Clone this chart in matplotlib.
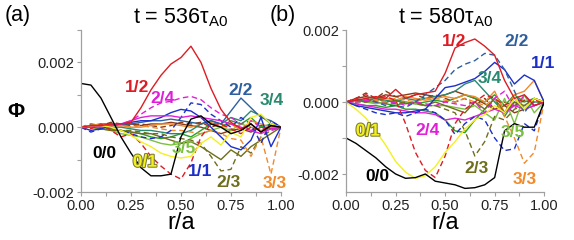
import numpy as np
import matplotlib.pyplot as plt
import matplotlib.patheffects as pe
from matplotlib.ticker import MultipleLocator, FuncFormatter

plt.rcParams.update({
    'font.family': ['Liberation Sans', 'DejaVu Sans'],
    'mathtext.fontset': 'custom',
    'mathtext.rm': 'Liberation Sans',
})

r = np.linspace(0, 1, 21)

# panel (a), t = 536 tau_A0  (values in units of 1e-3)
a_00 = [1.35, 1.3, 0.9, 0.3, -0.3, -0.8, -1.25, -1.5, -1.5, -1.45, -0.3, 0.25, 0.35, 0.1, 0.0, -0.2, -0.1, 0.1, -0.15, 0.05, 0]
a_01 = [0, 0.05, 0.05, 0, -0.1, -0.25, -0.45, -0.6, -0.8, -0.9, -0.95, -0.9, -0.5, -0.3, -0.55, -0.15, -0.3, 0.3, 0.4, 0.1, 0]
a_12 = [0, 0.05, 0.05, 0.1, 0.1, 0.15, 0.6, 1.15, 1.6, 1.95, 2.15, 2.5, 2.0, 1.2, 0.55, 0.15, -0.05, 0.1, -0.15, 0.05, 0]
a_12d = [0, -0.05, 0.1, -0.1, -0.3, -0.2, -0.5, -0.9, -1.2, -1.45, -1.6, -1.1, -0.3, 0.1, 0.1, -0.05, -0.2, 0.0, -0.1, 0.05, 0]
a_24 = [0, 0, 0.05, 0.05, 0.1, 0.2, 0.3, 0.35, 0.35, 0.35, 0.3, 0.35, 0.3, 0.25, 0.2, 0.1, 0, -0.1, -0.2, -0.05, 0]
a_24d = [0, 0, 0, 0.05, 0.1, 0.2, 0.4, 0.6, 0.75, 0.8, 0.9, 0.95, 0.85, 0.6, 0.4, 0.3, 0.1, 0.2, 0, -0.1, 0]
a_11 = [0, -0.1, -0.05, 0.05, 0.1, 0.15, 0.2, 0.2, 0.3, 0.45, 0.55, 0.5, 0.3, 0.0, -0.3, -0.6, -0.7, -0.4, 0.3, -0.6, 0]
a_11d = [0, -0.15, -0.05, 0, -0.1, -0.2, -0.3, -0.35, -0.3, -0.1, 0.3, 0.75, 0.7, 0.4, 0.2, 0.0, 0.3, 0.1, -0.5, 0.2, 0]
a_22 = [0, 0, 0.05, 0.05, 0.1, 0.1, 0.15, 0.2, 0.2, 0.25, 0.2, 0.15, 0.1, 0.2, 0.1, 0.5, 0.9, 0.6, 0.3, 0.2, 0]
a_23 = [0, 0, -0.05, -0.1, -0.1, -0.15, -0.2, -0.2, -0.3, -0.4, -0.5, -0.45, -0.6, -0.8, -1.0, -0.7, -0.9, -0.6, -0.4, -0.2, 0]
a_23d = [0, 0, 0, -0.05, -0.1, -0.1, -0.15, -0.2, -0.2, -0.3, -0.35, -0.4, -0.5, -0.9, -1.35, -1.3, -0.6, -0.8, -0.3, -0.1, 0]
a_33d = [0, 0.05, 0.05, 0, 0.05, 0, 0.05, 0, -0.05, -0.1, -0.1, -0.15, -0.2, -0.1, -0.2, -0.35, -0.4, -0.9, -0.3, -1.45, 0]
a_33 = [0, 0.05, 0.1, 0.05, 0.05, 0, 0, 0.05, 0.1, 0.1, 0.05, 0, 0.1, 0.15, 0.0, 0.1, -0.1, 0.2, 0.1, 0.0, 0]
a_34 = [0, 0.05, 0.05, 0, 0, -0.05, -0.1, -0.1, -0.15, -0.2, -0.2, -0.1, 0.1, 0.2, 0.1, 0.3, 0.2, 0.5, 0.35, 0.1, 0]
a_35 = [0, 0, -0.05, -0.1, -0.2, -0.25, -0.3, -0.4, -0.5, -0.55, -0.5, -0.35, -0.2, -0.1, 0, -0.1, 0.1, 0, -0.1, 0, 0]
a_gr = [0, 0, 0, -0.05, -0.1, -0.15, -0.2, -0.3, -0.35, -0.3, -0.2, -0.3, -0.1, 0.1, 0, 0.2, 0.1, 0.3, 0, 0.1, 0]
a_br = [0, 0.05, 0.1, 0.1, 0.05, 0.1, 0.05, 0.1, 0.1, 0.15, 0.1, 0.05, 0, -0.1, -0.2, -0.1, -0.05, -0.15, 0, -0.05, 0]
a_brd = [0, 0.1, 0.05, 0.15, 0.1, 0.05, 0.1, 0.05, 0, 0.05, 0.15, 0.1, 0.15, 0, 0.1, -0.1, 0.1, -0.1, 0.05, 0, 0]

# panel (b), t = 580 tau_A0
b_00 = [-1.0, -1.15, -1.35, -1.55, -1.8, -2.0, -2.12, -2.1, -2.0, -2.2, -2.25, -2.3, -2.4, -2.38, -2.3, -2.1, -0.8, -0.6, -0.7, -0.7, 0]
b_01 = [0, -0.2, -0.45, -0.8, -1.2, -1.65, -1.95, -2.12, -2.05, -1.8, -1.4, -1.1, -0.75, -0.5, -0.35, -0.1, -0.3, 0.1, -0.2, 0.1, 0]
b_12 = [0, 0.05, 0.1, 0.15, 0.1, 0.35, 0.1, 0.2, 0.25, 0.3, 0.8, 1.5, 1.65, 1.75, 1.55, 1.3, 0.6, 0.1, 0.2, -0.1, 0]
b_12d = [0, 0.1, 0.2, 0.1, 0.15, 0.05, -0.6, -1.4, -1.9, -2.1, -1.5, -0.6, -0.2, 0.0, 0.2, 0.1, -0.1, 0.1, 0, 0.05, 0]
b_22d = [0, 0.05, 0.1, 0.0, -0.1, -0.1, -0.15, 0.0, 0.2, 0.4, 0.6, 0.9, 1.05, 1.15, 1.35, 1.3, 0.9, 0.3, -0.3, 0.1, 0]
b_11 = [0, -0.1, -0.15, -0.2, -0.25, -0.3, -0.3, -0.25, -0.2, 0.1, 0.4, 0.45, 0.55, 0.65, 0.85, 1.1, 0.9, 0.5, 0.75, 0.6, 0]
b_11d = [0, -0.1, -0.2, -0.3, -0.35, -0.3, -0.4, -0.3, -0.2, -0.3, -0.5, -0.9, -0.6, -0.4, -0.5, -1.0, -1.35, -1.3, -0.6, -0.8, 0]
b_23d = [0, 0, 0, 0.05, 0, -0.05, 0, -0.05, -0.1, -0.1, -0.2, -0.3, -0.8, -1.5, -1.1, -0.4, -0.5, -0.2, -0.1, 0, 0]
b_23 = [0, 0.05, 0, 0.1, 0, 0.05, -0.05, 0, -0.1, 0, -0.1, -0.2, -0.3, 0, -0.2, 0.1, -0.3, 0, -0.1, 0.1, 0]
b_33d = [0, 0.05, 0.1, 0.05, 0, 0.1, 0.05, 0, 0.1, 0.1, 0.05, 0, 0.1, 0, -0.1, 0.1, -0.4, -1.0, -1.7, -1.4, 0]
b_33 = [0, 0.05, 0.05, 0.1, 0.1, 0.05, 0.15, 0.1, 0.05, 0.1, 0.15, 0.1, 0.2, 0.15, 0.0, 0.3, -0.3, 0.2, 0.3, 0.6, 0]
b_24 = [0, -0.05, -0.1, -0.15, -0.2, -0.2, -0.25, -0.3, -0.3, -0.35, -0.5, -0.45, -0.5, -0.4, -0.3, -0.2, -0.3, -0.1, -0.2, -0.1, 0]
b_24d = [0, 0, 0.05, 0, -0.05, 0, -0.1, 0, -0.05, -0.1, 0, -0.05, -0.1, 0, -0.3, 0.1, 0.3, -0.2, 0.2, -0.1, 0]
b_34 = [0, 0.05, 0.05, 0.1, 0.05, 0, 0.1, 0.05, 0.1, 0.15, 0.2, 0.3, 0.5, 0.6, 0.3, 0.0, -0.3, 0.1, -0.2, 0.0, 0]
b_35 = [0, 0.05, 0, -0.05, 0, 0.05, 0, -0.05, -0.1, -0.1, -0.1, -0.15, -0.2, -0.1, -0.3, -0.5, 0.1, -0.6, 0.2, -0.3, 0]
b_dg = [0, -0.05, -0.1, -0.1, -0.15, -0.1, -0.2, -0.2, -0.25, -0.3, -0.5, -0.8, -0.85, -0.5, -0.2, 0.1, -0.4, 0, -0.2, 0.1, 0]
b_br = [0, 0.1, 0.15, 0.1, 0.2, 0.15, 0.2, 0.25, 0.2, 0.15, 0.2, 0.3, 0.2, 0.1, -0.05, -0.2, -0.1, -0.3, -0.2, -0.1, 0]
b_brd = [0, 0.1, 0.25, 0.1, 0.3, 0.15, 0.1, 0.2, 0.1, 0.2, 0.1, 0.0, 0.1, -0.1, 0.1, -0.2, 0, -0.1, 0.05, 0, 0]
b_gr = [0, 0.05, 0, 0, -0.05, -0.1, 0, -0.05, 0, 0.05, 0, 0.1, 0.2, 0.1, 0, 0.2, -0.1, 0.2, 0, 0.1, 0]

labels = ['0/0', '0/1', '1/1', '1/2', '2/2', '2/3', '2/4', '3/3', '3/4', '3/5']

col = {'0/0': 'black', '0/1': '#f4f020', '1/1': '#1c30c8', '1/2': '#dd1c24',
       '2/2': '#2e5f9e', '2/3': '#6e6e1c', '2/4': '#e020d8', '3/3': '#f08a2a',
       '3/4': '#2a8a70', '3/5': '#7cc040', 'br': '#8a3a14', 'gr': '#28a028'}

curves_a = [(a_br, 'br', '-'), (a_brd, 'br', '--'), (a_gr, 'gr', '-'), (a_33, '3/3', '-'),
            (a_35, '3/5', '-'), (a_34, '3/4', '-'), (a_22, '2/2', '-'), (a_23, '2/3', '-'),
            (a_23d, '2/3', '--'), (a_33d, '3/3', '--'), (a_11d, '1/1', '--'), (a_11, '1/1', '-'),
            (a_24d, '2/4', '--'), (a_24, '2/4', '-'), (a_12d, '1/2', '--'), (a_01, '0/1', '-'),
            (a_12, '1/2', '-'), (a_00, '0/0', '-')]
curves_b = [(b_br, 'br', '-'), (b_brd, 'br', '--'), (b_gr, 'gr', '-'), (b_dg, 'gr', '-'),
            (b_33, '3/3', '-'), (b_35, '3/5', '-'), (b_34, '3/4', '-'), (b_23, '2/3', '-'),
            (b_23d, '2/3', '--'), (b_33d, '3/3', '--'), (b_24d, '2/4', '--'), (b_24, '2/4', '-'),
            (b_11d, '1/1', '--'), (b_11, '1/1', '-'), (b_22d, '2/2', '--'), (b_12d, '1/2', '--'),
            (b_01, '0/1', '-'), (b_12, '1/2', '-'), (b_00, '0/0', '-')]

# label positions (r, phi*1e3)
pos_a = {'1/2': (0.28, 1.23), '2/4': (0.41, 0.89), '2/2': (0.80, 1.14), '3/4': (0.955, 0.83),
         '0/0': (0.115, -0.80), '0/1': (0.32, -1.08), '3/5': (0.515, -0.65), '1/1': (0.595, -1.38),
         '2/3': (0.74, -1.72), '3/3': (0.97, -1.75)}
pos_b = {'1/2': (0.545, 1.69), '2/2': (0.86, 1.69), '1/1': (0.995, 1.06), '3/4': (0.727, 0.64),
         '0/1': (0.11, -0.81), '2/4': (0.41, -0.78), '3/5': (0.84, -0.86), '2/3': (0.657, -1.86),
         '0/0': (0.157, -2.08), '3/3': (0.90, -2.14)}

fig = plt.figure(figsize=(5.74, 2.40), dpi=100)
ax_a = fig.add_axes([0.141, 0.2, 0.3485, 0.675])
ax_b = fig.add_axes([0.603, 0.2, 0.345, 0.675])

fmt = FuncFormatter(lambda v, p: '{:.3f}'.format(v * 1e-3).replace('-0.000', '0.000'))

for ax, curves, pos, ylim, title in [(ax_a, curves_a, pos_a, (-2.0, 3.0), '536'),
                                     (ax_b, curves_b, pos_b, (-2.5, 2.0), '580')]:
    for vals, key, ls in curves:
        ax.plot(r, vals, color=col[key], ls=ls, lw=1.0, dashes=(4, 2.5) if ls == '--' else (None, None))
    for lab in labels:
        x, y = pos[lab]
        t = ax.text(x, y, lab, color=col[lab], fontsize=12.5, fontweight='bold',
                    ha='center', va='center', clip_on=False)
        if lab == '0/1':
            t.set_path_effects([pe.withStroke(linewidth=1.5, foreground='#7a7a30')])
    ax.set_xlim(0, 1)
    ax.set_ylim(*ylim)
    ax.xaxis.set_major_locator(MultipleLocator(0.25))
    ax.xaxis.set_minor_locator(MultipleLocator(0.125))
    ax.yaxis.set_major_locator(MultipleLocator(2.0))
    ax.yaxis.set_minor_locator(MultipleLocator(1.0))
    ax.xaxis.set_major_formatter(FuncFormatter(lambda v, p: '{:.2f}'.format(v)))
    ax.yaxis.set_major_formatter(fmt)
    for s in ['top', 'right']:
        ax.spines[s].set_visible(False)
    for s in ['left', 'bottom']:
        ax.spines[s].set_color('#a0a0a0')
        ax.spines[s].set_linewidth(0.9)
    ax.tick_params(which='both', direction='out', color='#a0a0a0', labelsize=10.5,
                   labelcolor='#222222', length=3, width=0.8, pad=2)
    ax.set_xlabel('r/a', fontsize=17, labelpad=-1)
    ax.set_title('t = ' + title + 'τ$_{\\mathrm{A0}}$', fontsize=15.5, pad=5)

fig.text(0.030, 0.9375, '(a)', fontsize=15.5, ha='center', va='center')
fig.text(0.493, 0.9375, '(b)', fontsize=15.5, ha='center', va='center')
fig.text(0.028, 0.537, 'Φ', fontsize=15, fontweight='bold', ha='center', va='center')

fig.savefig('out.png', dpi=100)
